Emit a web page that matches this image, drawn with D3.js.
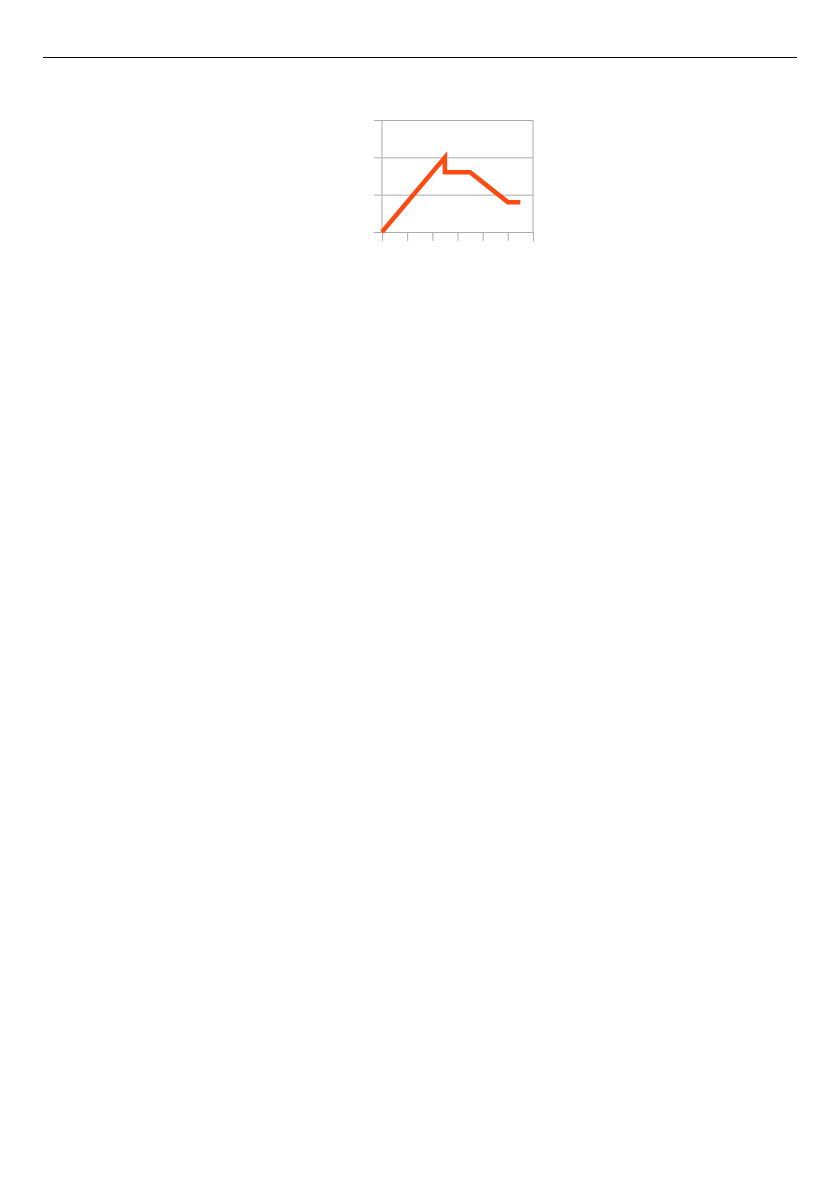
<!DOCTYPE html>
<html>
<head>
<meta charset="utf-8">
<script src="https://cdn.jsdelivr.net/npm/d3@7"></script>
<style>
  body { margin: 0; background: #fff; }
  .grid line { stroke: #ababab; stroke-width: 1; }
</style>
</head>
<body>
<div id="chart"></div>
<script>
// values
const xTicks = [0, 1, 2, 3, 4, 5, 6];
const yTicks = [0, 1, 2, 3];
const xValues = [0, 2.5, 2.5, 3.5, 5, 5.5];
const yValues = [0, 2, 1.6, 1.6, 0.8, 0.8];

const width = 840, height = 1190;
const margin = {top: 120, left: 382, right: 533, bottom: 232};

const svg = d3.select('#chart').append('svg')
    .attr('width', width)
    .attr('height', height);

// header rule
svg.append('line')
    .attr('x1', 43).attr('x2', 797)
    .attr('y1', 57.5).attr('y2', 57.5)
    .attr('stroke', '#000')
    .attr('stroke-width', 1);

const xScale = d3.scaleLinear().domain([0, 6]).range([margin.left, margin.right]);
const yScale = d3.scaleLinear().domain([0, 3]).range([margin.bottom, margin.top]);

// horizontal gridlines, extended left as ticks
const yAxis = d3.axisLeft(yScale)
    .tickValues(yTicks)
    .tickSize(-(margin.right - margin.left) - 8)
    .tickFormat('');
svg.append('g')
    .attr('class', 'grid')
    .attr('transform', `translate(${margin.left - 8},0)`)
    .call(yAxis)
    .call(g => g.select('.domain').remove());

// vertical ticks below the bottom axis
const xAxis = d3.axisBottom(xScale)
    .tickValues(xTicks)
    .tickSize(9)
    .tickFormat('');
svg.append('g')
    .attr('class', 'grid')
    .attr('transform', `translate(0,${margin.bottom})`)
    .call(xAxis)
    .call(g => g.select('.domain').remove());

// left and right frame lines
svg.append('g').attr('class', 'grid')
  .selectAll('line')
  .data([0, 6])
  .join('line')
    .attr('x1', d => xScale(d)).attr('x2', d => xScale(d))
    .attr('y1', yScale(3)).attr('y2', yScale(0));

const data = xValues.map((x, i) => ({x, y: yValues[i]}));

const line = d3.line()
    .x(d => xScale(d.x))
    .y(d => yScale(d.y));

svg.append('path')
    .datum(data)
    .attr('d', line)
    .attr('fill', 'none')
    .attr('stroke', '#ff4a12')
    .attr('stroke-width', 4.5)
    .attr('stroke-linejoin', 'miter');
</script>
</body>
</html>
